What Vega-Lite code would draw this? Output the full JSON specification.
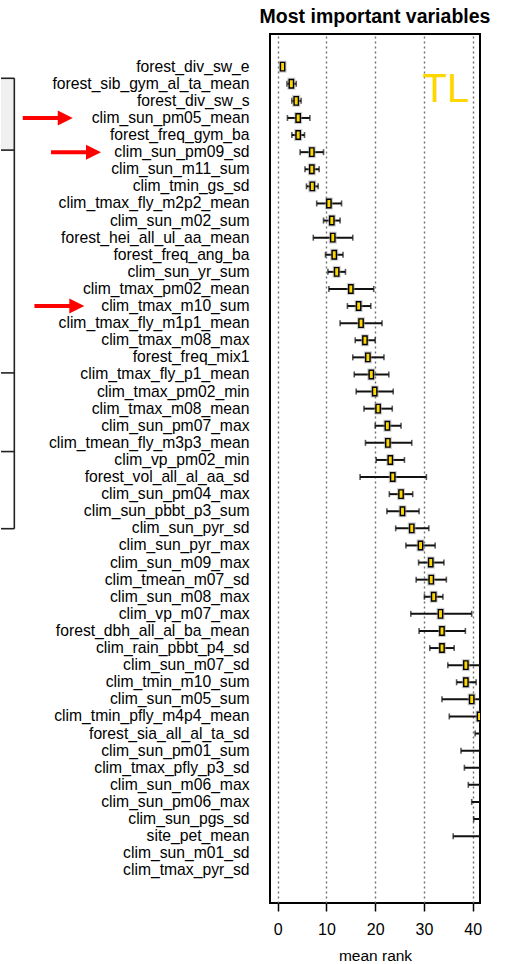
{
  "$schema": "https://vega.github.io/schema/vega-lite/v6.json",
  "width": 210,
  "height": 869,
  "padding": {"left": 0, "top": 6, "right": 10, "bottom": 0},
  "background": "white",
  "config": {
    "font": "Liberation Sans",
    "view": {"stroke": "black", "strokeWidth": 2}
  },
  "title": {"text": "Most important variables", "fontSize": 19.5, "fontWeight": "bold", "color": "black", "frame": "group", "anchor": "middle", "offset": -8, "baseline": "alphabetic"},
  "datasets": {
    "vars": [
      {"rank": 1, "variable": "forest_div_sw_e", "mean": 1.0, "lo": 0.85, "hi": 1.15},
      {"rank": 2, "variable": "forest_sib_gym_al_ta_mean", "mean": 2.8, "lo": 1.9, "hi": 3.8},
      {"rank": 3, "variable": "forest_div_sw_s", "mean": 3.8, "lo": 2.9, "hi": 4.8},
      {"rank": 4, "variable": "clim_sun_pm05_mean", "mean": 4.2, "lo": 2.0, "hi": 6.6},
      {"rank": 5, "variable": "forest_freq_gym_ba", "mean": 4.2, "lo": 2.9, "hi": 5.5},
      {"rank": 6, "variable": "clim_sun_pm09_sd", "mean": 7.0, "lo": 4.6, "hi": 9.4},
      {"rank": 7, "variable": "clim_sun_m11_sum", "mean": 7.0, "lo": 5.6, "hi": 8.5},
      {"rank": 8, "variable": "clim_tmin_gs_sd", "mean": 7.1, "lo": 5.9, "hi": 8.3},
      {"rank": 9, "variable": "clim_tmax_fly_m2p2_mean", "mean": 10.5, "lo": 8.0, "hi": 13.1},
      {"rank": 10, "variable": "clim_sun_m02_sum", "mean": 11.1, "lo": 9.4, "hi": 12.8},
      {"rank": 11, "variable": "forest_hei_all_ul_aa_mean", "mean": 11.3, "lo": 7.3, "hi": 15.4},
      {"rank": 12, "variable": "forest_freq_ang_ba", "mean": 11.6, "lo": 9.8, "hi": 13.4},
      {"rank": 13, "variable": "clim_sun_yr_sum", "mean": 12.1, "lo": 10.3, "hi": 13.9},
      {"rank": 14, "variable": "clim_tmax_pm02_mean", "mean": 15.0, "lo": 10.5, "hi": 19.7},
      {"rank": 15, "variable": "clim_tmax_m10_sum", "mean": 16.6, "lo": 14.3, "hi": 19.1},
      {"rank": 16, "variable": "clim_tmax_fly_m1p1_mean", "mean": 17.1, "lo": 12.8, "hi": 21.4},
      {"rank": 17, "variable": "clim_tmax_m08_max", "mean": 17.9, "lo": 15.9, "hi": 20.0},
      {"rank": 18, "variable": "forest_freq_mix1", "mean": 18.5, "lo": 15.4, "hi": 21.8},
      {"rank": 19, "variable": "clim_tmax_fly_p1_mean", "mean": 19.2, "lo": 15.7, "hi": 22.8},
      {"rank": 20, "variable": "clim_tmax_pm02_min", "mean": 19.9, "lo": 16.1, "hi": 23.7},
      {"rank": 21, "variable": "clim_tmax_m08_mean", "mean": 20.6, "lo": 17.7, "hi": 23.5},
      {"rank": 22, "variable": "clim_sun_pm07_max", "mean": 22.5, "lo": 20.0, "hi": 25.3},
      {"rank": 23, "variable": "clim_tmean_fly_m3p3_mean", "mean": 22.6, "lo": 18.0, "hi": 27.5},
      {"rank": 24, "variable": "clim_vp_pm02_min", "mean": 23.1, "lo": 20.2, "hi": 26.0},
      {"rank": 25, "variable": "forest_vol_all_al_aa_sd", "mean": 23.6, "lo": 16.9, "hi": 30.5},
      {"rank": 26, "variable": "clim_sun_pm04_max", "mean": 25.3, "lo": 22.9, "hi": 27.7},
      {"rank": 27, "variable": "clim_sun_pbbt_p3_sum", "mean": 25.6, "lo": 22.4, "hi": 29.0},
      {"rank": 28, "variable": "clim_sun_pyr_sd", "mean": 27.5, "lo": 24.2, "hi": 31.0},
      {"rank": 29, "variable": "clim_sun_pyr_max", "mean": 29.3, "lo": 26.3, "hi": 32.3},
      {"rank": 30, "variable": "clim_sun_m09_max", "mean": 31.4, "lo": 28.9, "hi": 34.1},
      {"rank": 31, "variable": "clim_tmean_m07_sd", "mean": 31.5, "lo": 28.4, "hi": 34.6},
      {"rank": 32, "variable": "clim_sun_m08_max", "mean": 32.0, "lo": 30.1, "hi": 33.9},
      {"rank": 33, "variable": "clim_vp_m07_max", "mean": 33.4, "lo": 27.3, "hi": 39.8},
      {"rank": 34, "variable": "forest_dbh_all_al_ba_mean", "mean": 33.7, "lo": 29.0, "hi": 38.5},
      {"rank": 35, "variable": "clim_rain_pbbt_p4_sd", "mean": 33.7, "lo": 31.2, "hi": 36.2},
      {"rank": 36, "variable": "clim_sun_m07_sd", "mean": 38.6, "lo": 34.9, "hi": 42.5},
      {"rank": 37, "variable": "clim_tmin_m10_sum", "mean": 38.6, "lo": 36.7, "hi": 40.7},
      {"rank": 38, "variable": "clim_sun_m05_sum", "mean": 39.8, "lo": 33.7, "hi": 45.9},
      {"rank": 39, "variable": "clim_tmin_pfly_m4p4_mean", "mean": 41.4, "lo": 35.2, "hi": 47.6},
      {"rank": 40, "variable": "forest_sia_all_al_ta_sd", "mean": 42.3, "lo": 40.5, "hi": 44.1},
      {"rank": 41, "variable": "clim_sun_pm01_sum", "mean": 42.6, "lo": 37.6, "hi": 47.6},
      {"rank": 42, "variable": "clim_tmax_pfly_p3_sd", "mean": 43.0, "lo": 38.3, "hi": 47.7},
      {"rank": 43, "variable": "clim_sun_m06_max", "mean": 43.3, "lo": 39.1, "hi": 47.5},
      {"rank": 44, "variable": "clim_sun_pm06_max", "mean": 43.6, "lo": 39.8, "hi": 47.4},
      {"rank": 45, "variable": "clim_sun_pgs_sd", "mean": 43.9, "lo": 40.2, "hi": 47.6},
      {"rank": 46, "variable": "site_pet_mean", "mean": 44.5, "lo": 36.0, "hi": 53.0},
      {"rank": 47, "variable": "clim_sun_m01_sd", "mean": 45.5, "lo": 43.0, "hi": 48.0},
      {"rank": 48, "variable": "clim_tmax_pyr_sd", "mean": 46.5, "lo": 44.0, "hi": 49.0}
    ],
    "arrows": [
      {"rank": 4, "start": -52.3, "tip": -42.05},
      {"rank": 6, "start": -46.5, "tip": -36.25},
      {"rank": 15, "start": -49.9, "tip": -39.67}
    ],
    "frag_h": [
      {"row": 1.68}, {"row": 5.88}, {"row": 18.91}, {"row": 23.51}, {"row": 28.02}
    ],
    "frag_v": [
      {"top": 1.68, "bottom": 28.02}
    ],
    "frag_fill": [
      {"top": 1.68, "bottom": 5.88}
    ]
  },
  "encoding": {
    "y": {"type": "quantitative", "scale": {"domain": [-0.91, 49.91], "reverse": true, "nice": false, "zero": false}, "axis": null}
  },
  "layer": [
    {
      "data": {"name": "vars"},
      "mark": {"type": "rule", "clip": true, "strokeWidth": 2, "color": "#111111"},
      "encoding": {
        "x": {"field": "lo", "type": "quantitative",
          "scale": {"domain": [-1.58, 41.5], "nice": false, "zero": false},
          "axis": {"values": [0, 10, 20, 30, 40], "grid": true, "gridDash": [2, 3], "gridColor": "#6f6f6f", "gridWidth": 1.4, "domain": false, "ticks": true, "tickSize": 8, "tickWidth": 1.5, "tickColor": "black", "labelFontSize": 16, "labelColor": "black", "labelPadding": 10, "labelFlush": false, "title": "mean rank", "titleFontSize": 15.5, "titleFontWeight": "normal", "titleColor": "black", "titlePadding": 11}},
        "x2": {"field": "hi"},
        "y": {"field": "rank", "type": "quantitative"}
      }
    },
    {
      "data": {"name": "vars"},
      "mark": {"type": "text", "align": "right", "baseline": "middle", "fontSize": 15.7, "color": "black", "dx": -20.5},
      "encoding": {
        "x": {"datum": -1.58, "type": "quantitative"},
        "y": {"field": "rank", "type": "quantitative"},
        "text": {"field": "variable"}
      }
    },
    {
      "data": {"name": "vars"},
      "mark": {"type": "tick", "clip": true, "orient": "vertical", "size": 6, "thickness": 1.6, "color": "#111111"},
      "encoding": {
        "x": {"field": "lo", "type": "quantitative"},
        "y": {"field": "rank", "type": "quantitative"}
      }
    },
    {
      "data": {"name": "vars"},
      "mark": {"type": "tick", "clip": true, "orient": "vertical", "size": 6, "thickness": 1.6, "color": "#111111"},
      "encoding": {
        "x": {"field": "hi", "type": "quantitative"},
        "y": {"field": "rank", "type": "quantitative"}
      }
    },
    {
      "data": {"name": "vars"},
      "mark": {"type": "tick", "clip": true, "orient": "vertical", "size": 12, "thickness": 8, "color": "#9a9a9a", "opacity": 0.5},
      "encoding": {
        "x": {"field": "mean", "type": "quantitative"},
        "y": {"field": "rank", "type": "quantitative"}
      }
    },
    {
      "data": {"name": "vars"},
      "mark": {"type": "tick", "clip": true, "orient": "vertical", "size": 8.5, "thickness": 4.3, "fill": "#FFD700", "color": "#FFD700", "stroke": "black", "strokeWidth": 1.4, "opacity": 1},
      "encoding": {
        "x": {"field": "mean", "type": "quantitative"},
        "y": {"field": "rank", "type": "quantitative"}
      }
    },
    {
      "data": {"name": "arrows"},
      "mark": {"type": "rule", "strokeWidth": 4, "color": "#FF0000", "x2Offset": -9},
      "encoding": {
        "x": {"field": "start", "type": "quantitative"},
        "x2": {"field": "tip"},
        "y": {"field": "rank", "type": "quantitative"}
      }
    },
    {
      "data": {"name": "arrows"},
      "mark": {"type": "point", "shape": "M-1,-1L1,0L-1,1Z", "size": 225, "filled": true, "color": "#FF0000", "opacity": 1, "strokeWidth": 0, "xOffset": -7.5},
      "encoding": {
        "x": {"field": "tip", "type": "quantitative"},
        "y": {"field": "rank", "type": "quantitative"}
      }
    },
    {
      "data": {"values": [{"label": "TL", "rank": 3}]},
      "mark": {"type": "text", "fontSize": 40, "color": "#FFD700", "align": "right", "baseline": "alphabetic", "dy": 1.5},
      "encoding": {
        "x": {"datum": 39.3, "type": "quantitative"},
        "y": {"field": "rank", "type": "quantitative"},
        "text": {"field": "label"}
      }
    },
    {
      "data": {"name": "frag_fill"},
      "mark": {"type": "rect", "color": "#f0f0f0"},
      "encoding": {
        "x": {"datum": -56.76, "type": "quantitative"},
        "x2": {"datum": -54.03},
        "y": {"field": "top", "type": "quantitative"},
        "y2": {"field": "bottom"}
      }
    },
    {
      "data": {"name": "frag_h"},
      "mark": {"type": "rule", "color": "#222222", "strokeWidth": 1.6},
      "encoding": {
        "x": {"datum": -56.76, "type": "quantitative"},
        "x2": {"datum": -54.03},
        "y": {"field": "row", "type": "quantitative"}
      }
    },
    {
      "data": {"name": "frag_v"},
      "mark": {"type": "rule", "color": "#222222", "strokeWidth": 1.6},
      "encoding": {
        "x": {"datum": -54.03, "type": "quantitative"},
        "y": {"field": "top", "type": "quantitative"},
        "y2": {"field": "bottom"}
      }
    }
  ]
}
